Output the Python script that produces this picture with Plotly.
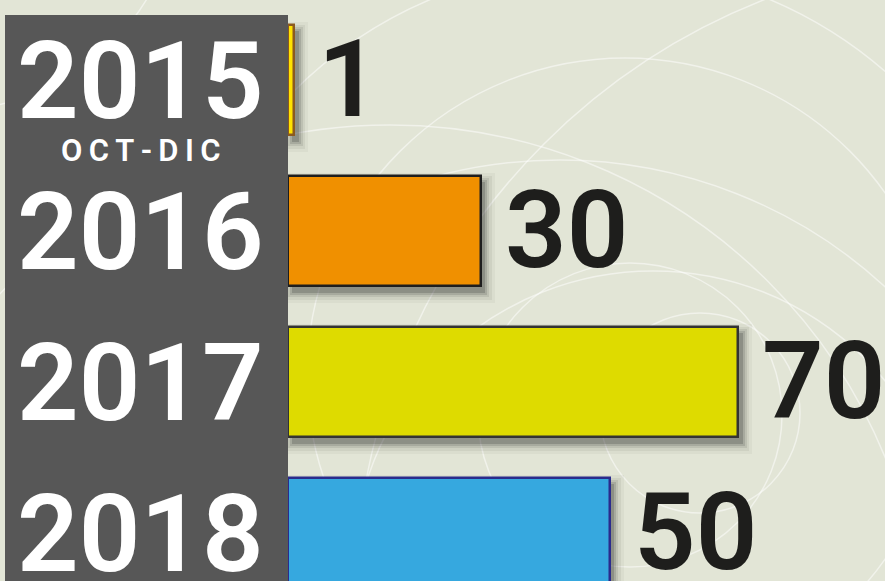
import plotly.graph_objects as go

years = ["2015", "2016", "2017", "2018"]
sublabels = ["O\u2009C\u2009T\u2009-\u2009D\u2009I\u2009C", "", "", ""]
values = [1, 30, 70, 50]
fill_colors = ["#ffe200", "#f09000", "#dedb00", "#36a8df"]
line_colors = ["#8b5a20", "#1e1e1e", "#333333", "#2b2b8c"]

W, H = 885, 581
L = 288
PW = W - L
PX_PER_UNIT = 6.43
XMAX = PW / PX_PER_UNIT
PITCH = 151.0
C0 = 79.5
BAR_W = 110 / PITCH
ypos = list(range(len(years)))
FONT = "Roboto"

def px2x(px):
    return (px - L) / PW

def py2y(py):
    return 1 - py / H

fig = go.Figure()

# drop shadows (layers of translucent rectangles)
for e, op in [(10, 0.04), (7, 0.06), (4.5, 0.09), (2.5, 0.13), (0.5, 0.18)]:
    dx, dy = 4, 7
    fig.add_trace(go.Bar(
        y=ypos, x=[v + 2 * e / PX_PER_UNIT for v in values], orientation="h",
        base=(dx - e) / PX_PER_UNIT,
        width=BAR_W + 2 * e / PITCH,
        offset=-(BAR_W + 2 * e / PITCH) / 2 + dy / PITCH,
        marker=dict(color=f"rgba(20,20,20,{op})", line=dict(width=0)),
        hoverinfo="skip", showlegend=False,
    ))

fig.add_trace(go.Bar(
    y=ypos, x=values, orientation="h", width=BAR_W,
    marker=dict(color=fill_colors, line=dict(color=line_colors, width=2.5)),
    showlegend=False,
))

shapes = []
# faint decorative arcs in the background
circles = [(625, 376, 318), (1000, 600, 645), (600, 400, 435), (390, 660, 535),
           (630, 415, 152), (653, 571, 300), (700, 413, 100), (-50, -120, 230),
           (560, 640, 480)]
for cx, cy, r in circles:
    shapes.append(dict(type="circle", xref="paper", yref="paper",
                       x0=px2x(cx - r), x1=px2x(cx + r), y0=py2y(cy + r), y1=py2y(cy - r),
                       line=dict(color="rgba(255,255,255,0.5)", width=1.5), layer="below"))
# grey label panel
shapes.append(dict(type="rect", xref="paper", yref="paper",
                   x0=px2x(5), x1=px2x(288), y0=py2y(H + 5), y1=py2y(15),
                   fillcolor="#575757", line=dict(width=0), layer="below"))

annotations = []
label_x = px2x(140)
for i, (yr, sub, v) in enumerate(zip(years, sublabels, values)):
    annotations.append(dict(x=label_x, y=i, xref="paper", yref="y", text=yr,
                            showarrow=False, xanchor="center", yanchor="middle", yshift=-1,
                            font=dict(family=FONT, size=108, color="white", weight=600)))
    if sub:
        annotations.append(dict(x=label_x, y=i, xref="paper", yref="y", text=sub,
                                showarrow=False, xanchor="center", yanchor="middle", yshift=-71,
                                font=dict(family=FONT, size=31, color="white", weight=600)))
    annotations.append(dict(x=v, y=i, xref="x", yref="y", text=str(v),
                            showarrow=False, xanchor="left", yanchor="middle", xshift=22, yshift=1,
                            font=dict(family=FONT, size=108, color="#1e1e1c", weight=600)))

fig.update_layout(
    width=W, height=H,
    margin=dict(l=L, r=0, t=0, b=0, pad=0),
    paper_bgcolor="#e2e5d6", plot_bgcolor="rgba(0,0,0,0)",
    barmode="overlay", bargap=0,
    xaxis=dict(range=[0, XMAX], visible=False, fixedrange=True),
    yaxis=dict(range=[(H - C0) / PITCH, -C0 / PITCH], visible=False, fixedrange=True),
    shapes=shapes, annotations=annotations,
)

fig.write_html("out.html", config={"displayModeBar": False},
               post_script="document.body.style.margin='0';document.body.style.background='#e2e5d6';")
